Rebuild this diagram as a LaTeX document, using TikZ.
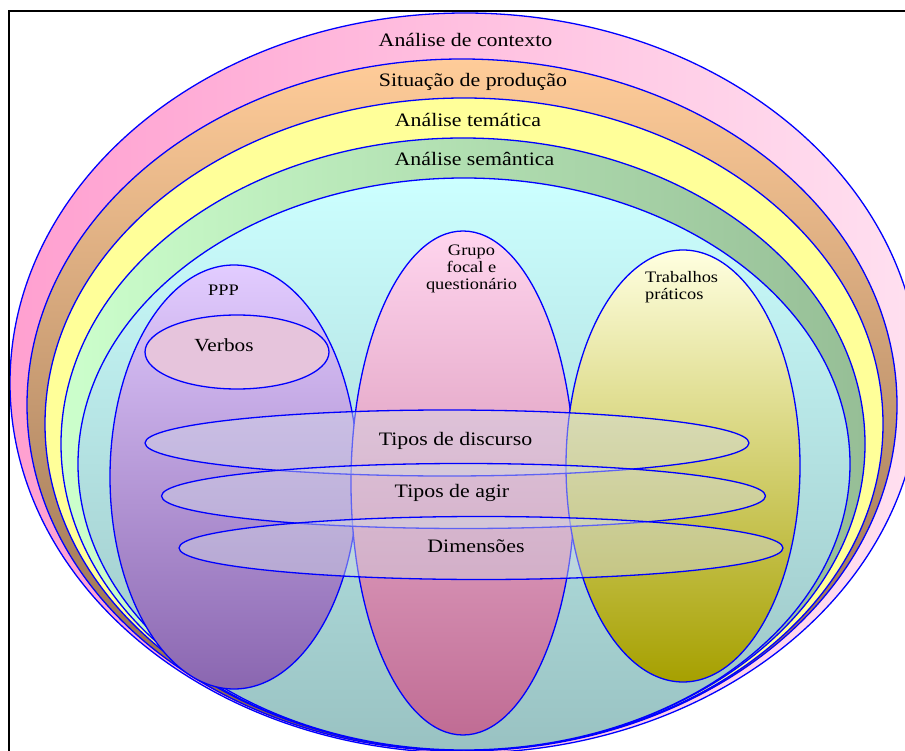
\documentclass[tikz,border=0pt]{standalone}
\usepackage{fontspec}
\setmainfont{Liberation Serif}[FakeStretch=1.15]
\definecolor{pinkL}{HTML}{FFA0D0}
\definecolor{pinkR}{HTML}{FFE0F0}
\definecolor{orT}{HTML}{FFCC99}
\definecolor{orM}{HTML}{DDAA80}
\definecolor{orB}{HTML}{8A6548}
\definecolor{yel}{HTML}{FFFF99}
\definecolor{grL}{HTML}{CCFFCC}
\definecolor{grR}{HTML}{96BE96}
\definecolor{cyT}{HTML}{CCFFFF}
\definecolor{cyB}{HTML}{99C2C2}
\definecolor{ppT}{HTML}{E2CCFF}
\definecolor{ppB}{HTML}{8A66B0}
\definecolor{gfT}{HTML}{FFD5EE}
\definecolor{gfB}{HTML}{C06C94}
\definecolor{tpT}{HTML}{FFFFE0}
\definecolor{tpB}{HTML}{A6A000}
\definecolor{verb}{HTML}{E6C4DC}
\definecolor{bandfill}{HTML}{D2DAE6}
\definecolor{edge}{HTML}{0000FF}
\tikzset{
  ring/.style={draw=edge, line width=1.3pt},
  band/.style={draw=edge, line width=1.3pt, fill=bandfill, fill opacity=0.45},
  biglabel/.style={inner sep=0pt, anchor=base, font=\fontsize{19}{22}\selectfont},
  smalllabel/.style={inner sep=0pt, anchor=base, font=\fontsize{16}{17}\selectfont},
}
\begin{document}
\begin{tikzpicture}[x=1pt,y=-1pt]
\useasboundingbox (0,0) rectangle (905,751);
\clip (0,0) rectangle (905,751);
\fill[white] (0,0) rectangle (905,751);
% concentric layers
\draw[ring, left color=pinkL, right color=pinkR] (465,383) ellipse [x radius=455pt, y radius=370pt];
\draw[ring, top color=orT, middle color=orM, bottom color=orB] (462,405) ellipse [x radius=435pt, y radius=346pt];
\draw[ring, fill=yel] (464,424) ellipse [x radius=419pt, y radius=326pt];
\draw[ring, left color=grL, right color=grR] (463,444) ellipse [x radius=402pt, y radius=306pt];
\draw[ring, top color=cyT, bottom color=cyB] (464,464) ellipse [x radius=386pt, y radius=286pt];
% vertical ellipses
\draw[ring, top color=ppT, bottom color=ppB] (234,477) ellipse [x radius=124pt, y radius=212pt];
\draw[ring, top color=gfT, bottom color=gfB] (463,483) ellipse [x radius=112pt, y radius=252pt];
\draw[ring, top color=tpT, bottom color=tpB] (683,466) ellipse [x radius=117pt, y radius=216pt];
\draw[ring, fill=verb] (237,352) ellipse [x radius=92pt, y radius=37pt];
% horizontal bands
\draw[band] (447,443) ellipse [x radius=302pt, y radius=33pt];
\draw[band] (463.5,496) ellipse [x radius=302pt, y radius=32.5pt];
\draw[band] (481,548) ellipse [x radius=302pt, y radius=31.5pt];
% labels
\node[biglabel] (contexto) at (465.5,47) {Análise de contexto};
\node[biglabel] (producao) at (473,87) {Situação de produção};
\node[biglabel] (tematica) at (468,127) {Análise temática};
\node[biglabel] (semantica) at (474.5,166) {Análise semântica};
\node[smalllabel] (ppp) at (223.5,296) {PPP};
\node[biglabel, font=\fontsize{18.5}{22}\selectfont] (verbos) at (224,352) {Verbos};
\node[smalllabel] (grupo) at (471.5,256) {\begin{tabular}[t]{@{}c@{}}Grupo\\focal e\\questionário\end{tabular}};
\node[smalllabel, anchor=base west] (trabalhos) at (645,283) {\begin{tabular}[t]{@{}l@{}}Trabalhos\\práticos\end{tabular}};
\node[biglabel] (discurso) at (455.5,445) {Tipos de discurso};
\node[biglabel] (agir) at (452,497) {Tipos de agir};
\node[biglabel] (dimensoes) at (476,552) {Dimensões};
% frame
\draw[black, line width=2.2pt] (9,11) rectangle (960,800);
\end{tikzpicture}
\end{document}
